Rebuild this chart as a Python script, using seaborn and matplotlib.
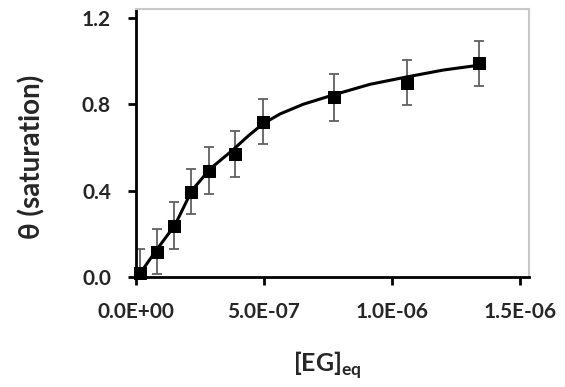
import matplotlib
matplotlib.use("Agg")
import matplotlib.pyplot as plt
import seaborn as sns
import pandas as pd

# measured points
eg_eq = [1.6e-8, 8.3e-8, 1.5e-7, 2.14e-7, 2.85e-7, 3.87e-7, 4.97e-7, 7.75e-7, 1.057e-6, 1.341e-6]
theta = [0.02, 0.117, 0.237, 0.395, 0.492, 0.568, 0.719, 0.832, 0.90, 0.989]
theta_err = [0.11, 0.105, 0.108, 0.105, 0.11, 0.107, 0.104, 0.108, 0.105, 0.104]

# fitted curve
fit_x = [0, 1.6e-8, 8.3e-8, 1.52e-7, 2.18e-7, 2.89e-7, 3.8e-7, 4.4e-7, 4.97e-7, 5.63e-7,
         6.54e-7, 7.71e-7, 9.14e-7, 1.057e-6, 1.2e-6, 1.344e-6]
fit_y = [0, 0.017, 0.13, 0.24, 0.40, 0.50, 0.59, 0.655, 0.71, 0.755,
         0.80, 0.843, 0.892, 0.926, 0.958, 0.981]

xticks = [0, 5e-7, 1e-6, 1.5e-6]
xtick_labels = ["0.0E+00", "5.0E-07", "1.0E-06", "1.5E-06"]
yticks = [0.0, 0.4, 0.8, 1.2]
ytick_labels = ["0.0", "0.4", "0.8", "1.2"]

sns.set_style("ticks")
plt.rcParams['font.family'] = ['Lato', 'DejaVu Sans']
plt.rcParams['mathtext.fontset'] = 'custom'
plt.rcParams['mathtext.rm'] = 'Lato'
plt.rcParams['mathtext.bf'] = 'Lato:bold'

fig = plt.figure(figsize=(5.65, 3.87), dpi=100)
ax = fig.add_axes([0.2407, 0.2842, 0.6956, 0.6926])

fit_df = pd.DataFrame({"x": fit_x, "y": fit_y})
sns.lineplot(data=fit_df, x="x", y="y", color="black", linewidth=2.2, ax=ax, zorder=3)

ax.errorbar(eg_eq, theta, yerr=theta_err, fmt="none", ecolor="#606060",
            elinewidth=1.3, capsize=3.5, capthick=1.3, zorder=2)
pts = pd.DataFrame({"x": eg_eq, "y": theta})
sns.scatterplot(data=pts, x="x", y="y", marker="s", s=85, color="black",
                edgecolor="black", ax=ax, zorder=4, clip_on=False)

ax.set_xlim(0, 1.535e-6)
ax.set_ylim(0, 1.2407)
ax.set_xticks(xticks)
ax.set_xticklabels(xtick_labels, fontweight="bold", fontsize=15)
ax.set_yticks(yticks)
ax.set_yticklabels(ytick_labels, fontweight="bold", fontsize=15)
ax.tick_params(direction="out", length=6, width=2, color="black", pad=12)

for side in ["left", "bottom"]:
    ax.spines[side].set_color("black")
    ax.spines[side].set_linewidth(2)
for side in ["top", "right"]:
    ax.spines[side].set_color("#c8c8c8")
    ax.spines[side].set_linewidth(1.5)

ax.set_xlabel(r"[EG]$_{\mathbf{eq}}$", fontweight="bold", fontsize=18, va="top")
ax.xaxis.set_label_coords(0.486, -0.27)
ax.set_ylabel("θ (saturation)", fontweight="bold", fontsize=20)
ax.yaxis.set_label_coords(-0.2316, 0.449)

fig.savefig("out.png", dpi=100)
